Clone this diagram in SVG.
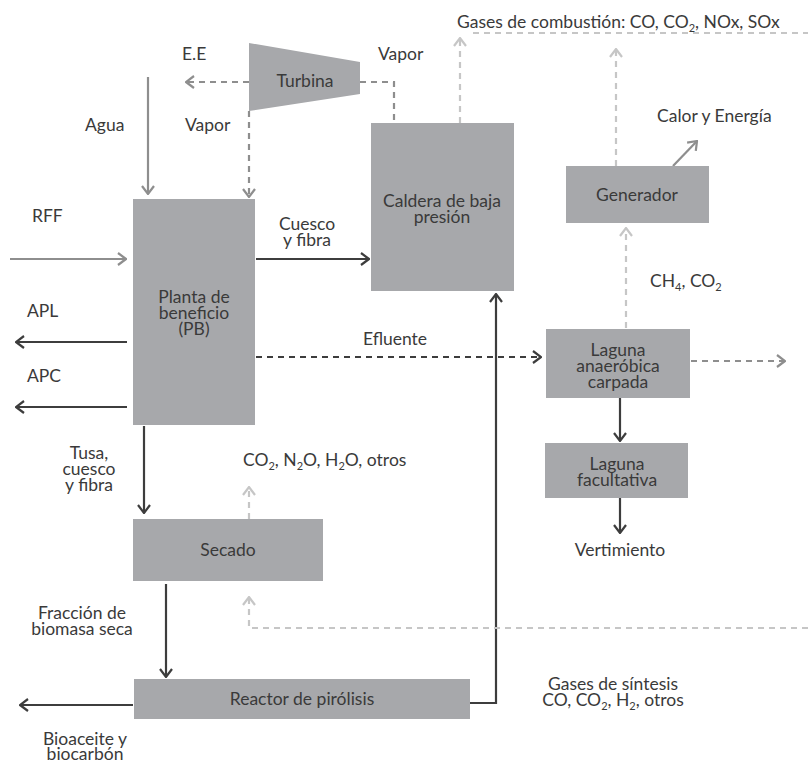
<svg xmlns="http://www.w3.org/2000/svg" width="808" height="763" viewBox="0 0 808 763">
<style>
text{font-family:Lato,"Open Sans","Liberation Sans",sans-serif;font-size:17.5px;fill:#3a3a3a}
.m{text-anchor:middle}
.box{fill:#a7a8ab}
.ln{fill:none;stroke-width:2.2}
.dk{stroke:#3d3d3d}
.md{stroke:#8e8e8e}
.lt{stroke:#c6c6c6}
.ds{stroke-dasharray:6 5}
.sub{font-size:11px}
</style>
<defs>
<marker id="aD" viewBox="0 0 10 14" refX="9" refY="7" markerWidth="10" markerHeight="14" orient="auto" markerUnits="userSpaceOnUse"><path d="M1,1 L9,7 L1,13" fill="none" stroke="#3d3d3d" stroke-width="2.2"/></marker>
<marker id="aM" viewBox="0 0 10 14" refX="9" refY="7" markerWidth="10" markerHeight="14" orient="auto" markerUnits="userSpaceOnUse"><path d="M1,1 L9,7 L1,13" fill="none" stroke="#8e8e8e" stroke-width="2.2"/></marker>
<marker id="aL" viewBox="0 0 10 14" refX="9" refY="7" markerWidth="10" markerHeight="14" orient="auto" markerUnits="userSpaceOnUse"><path d="M1,1 L9,7 L1,13" fill="none" stroke="#c6c6c6" stroke-width="2.2"/></marker>
</defs>

<g id="connectors">
<path class="ln dk" d="M256,259 H369" marker-end="url(#aD)"/>
<path class="ln dk" d="M127,342 H16" marker-end="url(#aD)"/>
<path class="ln dk" d="M127,407 H16" marker-end="url(#aD)"/>
<path class="ln dk" d="M144,426 V513" marker-end="url(#aD)"/>
<path class="ln dk" d="M166,584 V677" marker-end="url(#aD)"/>
<path class="ln dk" d="M133,705 H20" marker-end="url(#aD)"/>
<path class="ln dk" d="M470,703 H496 V294" marker-end="url(#aD)"/>
<path class="ln dk" d="M620,398 V441" marker-end="url(#aD)"/>
<path class="ln dk" d="M620,498 V533" marker-end="url(#aD)"/>
<path class="ln dk ds" d="M256,357 H541" marker-end="url(#aD)"/>

<path class="ln md" d="M10,259 H126" marker-end="url(#aM)"/>
<path class="ln md" d="M148,77 V194" marker-end="url(#aM)"/>
<path class="ln md ds" d="M249,82 H186" marker-end="url(#aM)"/>
<path class="ln md ds" d="M360,82 H394 V122"/>
<path class="ln md ds" d="M249,111 V197" marker-end="url(#aM)"/>
<path class="ln md ds" d="M691,361 H785" marker-end="url(#aM)"/>
<path class="ln md" d="M673,166 L697,141" marker-end="url(#aM)"/>

<path class="ln lt ds" d="M460,123 V38" marker-end="url(#aL)"/>
<path class="ln lt ds" d="M473,33 H808"/>
<path class="ln lt ds" d="M616,166 V49" marker-end="url(#aL)"/>
<path class="ln lt ds" d="M626,328 V228" marker-end="url(#aL)"/>
<path class="ln lt ds" d="M249,519 V487" marker-end="url(#aL)"/>
<path class="ln lt ds" d="M808,628 H249 V597" marker-end="url(#aL)"/>
</g>

<g id="turbina">
<polygon class="box" points="249,43 360,62 360,94 249,111"/>
<text class="m" x="305" y="87">Turbina</text>
</g>
<g id="planta">
<rect class="box" x="133" y="199" width="122" height="226"/>
<text class="m" x="194" y="303">Planta de</text>
<text class="m" x="194" y="319">beneficio</text>
<text class="m" x="194" y="335">(PB)</text>
</g>
<g id="caldera">
<rect class="box" x="371" y="123" width="143" height="168"/>
<text class="m" x="442" y="207">Caldera de baja</text>
<text class="m" x="442" y="223">presión</text>
</g>
<g id="generador">
<rect class="box" x="566" y="166" width="143" height="57"/>
<text class="m" x="637" y="201">Generador</text>
</g>
<g id="laguna-anaerobica">
<rect class="box" x="546" y="329" width="144" height="69"/>
<text class="m" x="618" y="356">Laguna</text>
<text class="m" x="618" y="372">anaeróbica</text>
<text class="m" x="618" y="388">carpada</text>
</g>
<g id="laguna-facultativa">
<rect class="box" x="545" y="443" width="143" height="55"/>
<text class="m" x="617" y="470">Laguna</text>
<text class="m" x="617" y="486">facultativa</text>
</g>
<g id="secado">
<rect class="box" x="133" y="519" width="190" height="62"/>
<text class="m" x="228" y="556">Secado</text>
</g>
<g id="reactor">
<rect class="box" x="134" y="679" width="336" height="40"/>
<text class="m" x="302" y="705">Reactor de pirólisis</text>
</g>

<g id="labels">
<text x="457" y="28">Gases de combustión: CO, CO<tspan class="sub" dy="4">2</tspan><tspan dy="-4">, NOx, SOx</tspan></text>
<text x="182" y="60">E.E</text>
<text x="378" y="60">Vapor</text>
<text x="85" y="131">Agua</text>
<text x="185" y="131">Vapor</text>
<text x="657" y="122">Calor y Energía</text>
<text x="32" y="222">RFF</text>
<text class="m" x="307" y="230">Cuesco</text>
<text class="m" x="307" y="246">y fibra</text>
<text x="27" y="317">APL</text>
<text x="27" y="382">APC</text>
<text class="m" x="395" y="345">Efluente</text>
<text x="650" y="287">CH<tspan class="sub" dy="4">4</tspan><tspan dy="-4">, CO</tspan><tspan class="sub" dy="4">2</tspan></text>
<text class="m" x="89" y="459">Tusa,</text>
<text class="m" x="89" y="475">cuesco</text>
<text class="m" x="89" y="491">y fibra</text>
<text x="243" y="466">CO<tspan class="sub" dy="4">2</tspan><tspan dy="-4">, N</tspan><tspan class="sub" dy="4">2</tspan><tspan dy="-4">O,  H</tspan><tspan class="sub" dy="4">2</tspan><tspan dy="-4">O, otros</tspan></text>
<text class="m" x="620" y="556">Vertimiento</text>
<text class="m" x="82" y="619">Fracción de</text>
<text class="m" x="82" y="635">biomasa seca</text>
<text class="m" x="613" y="690">Gases de síntesis</text>
<text class="m" x="613" y="706">CO, CO<tspan class="sub" dy="4">2</tspan><tspan dy="-4">, H</tspan><tspan class="sub" dy="4">2</tspan><tspan dy="-4">, otros</tspan></text>
<text class="m" x="85" y="745">Bioaceite y</text>
<text class="m" x="85" y="760">biocarbón</text>
</g>
</svg>
